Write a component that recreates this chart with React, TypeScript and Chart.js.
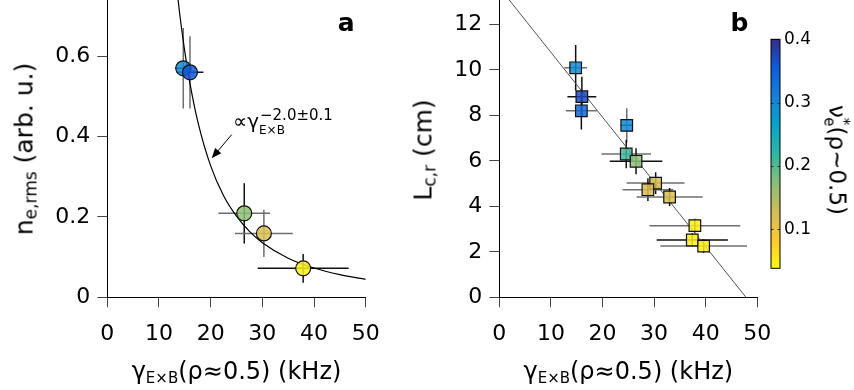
import React, { useEffect, useRef } from 'react';
import { Chart, registerables } from 'chart.js';
Chart.register(...registerables);

const FONT = 'DejaVu Sans';

// ---------- panel a ----------
const leftGamma = [14.7, 16.0, 26.5, 30.3, 37.9];
const leftGammaErr = [1.6, 2.6, 5.0, 5.6, 8.8];
const leftDensity = [0.570, 0.560, 0.209, 0.159, 0.072];
const leftDensityErr = [0.10, 0.09, 0.075, 0.059, 0.036];
const leftNu = [0.30, 0.36, 0.17, 0.12, 0.05];
const leftVErrDark = [false, false, true, false, true];
const leftHErrDark = [true, true, false, false, true];

// power-law fit curve
const leftFitGamma = [13.2, 13.7, 15, 16, 17.5, 20, 22.5, 25, 27.5, 30, 35, 40, 45, 50];
const leftFitDensity = [0.807, 0.74, 0.611, 0.532, 0.438, 0.327, 0.253, 0.202, 0.164, 0.136, 0.0973, 0.0728, 0.0563, 0.0448];

// ---------- panel b ----------
const rightGamma = [14.8, 16.0, 15.9, 24.7, 24.6, 26.5, 30.3, 28.8, 33.0, 37.9, 37.4, 39.6];
const rightGammaErr = [2.2, 2.8, 3.0, 1.2, 4.8, 5.1, 5.6, 4.9, 6.4, 8.8, 6.9, 8.4];
const rightLength = [10.09, 8.82, 8.20, 7.56, 6.30, 5.98, 5.02, 4.73, 4.41, 3.15, 2.52, 2.25];
const rightLengthErr = [1.0, 0.88, 0.82, 0.75, 0.63, 0.57, 0.48, 0.5, 0.4, 0.3, 0.3, 0.3];
const rightNu = [0.30, 0.37, 0.34, 0.30, 0.21, 0.17, 0.12, 0.12, 0.12, 0.05, 0.05, 0.05];
const rightVErrDark = [true, true, true, false, true, true, true, true, true, true, true, true];
const rightHErrDark = [false, true, false, true, false, true, false, false, false, false, true, false];

const rightFitGamma = [0, 47.8];
const rightFitLength = [13.62, 0];

// ---------- ticks ----------
const xTicks = [0, 10, 20, 30, 40, 50];
const leftYTicks = [0, 0.2, 0.4, 0.6];
const rightYTicks = [0, 2, 4, 6, 8, 10, 12];
const nuTicks = [0.1, 0.2, 0.3, 0.4];
const nuMin = 0.038;
const nuMax = 0.4;

// reversed parula colormap (0.4 -> dark blue, low -> yellow)
const PARULA = ['#352a87', '#0f5cdd', '#1481d6', '#06a4ca', '#2eb7a4', '#87bf77', '#d1bb59', '#fec832', '#f9fb0e'];
function hexRgb(h: string) {
  return [parseInt(h.slice(1, 3), 16), parseInt(h.slice(3, 5), 16), parseInt(h.slice(5, 7), 16)];
}
function nuColor(v: number, alpha = 1) {
  let t = (nuMax - v) / (nuMax - nuMin);
  t = Math.max(0, Math.min(1, t));
  const f = t * (PARULA.length - 1);
  const i = Math.min(PARULA.length - 2, Math.floor(f));
  const u = f - i;
  const a = hexRgb(PARULA[i]);
  const b = hexRgb(PARULA[i + 1]);
  const c = a.map((av, k) => Math.round(av + (b[k] - av) * u));
  return `rgba(${c[0]},${c[1]},${c[2]},${alpha})`;
}

function zeroPadding(s: any) {
  s.paddingTop = 0;
  s.paddingBottom = 0;
  s.paddingLeft = 0;
  s.paddingRight = 0;
}

const errorBarPlugin = {
  id: 'errbars',
  beforeDatasetsDraw(chart: any) {
    const { ctx, chartArea } = chart;
    const x = chart.scales.x;
    const y = chart.scales.y;
    ctx.save();
    ctx.beginPath();
    ctx.rect(chartArea.left, chartArea.top, chartArea.right - chartArea.left, chartArea.bottom - chartArea.top);
    ctx.clip();
    chart.data.datasets.forEach((ds: any) => {
      if (!ds.errX) return;
      ds.data.forEach((p: any, i: number) => {
        const px = x.getPixelForValue(p.x);
        const py = y.getPixelForValue(p.y);
        ctx.lineWidth = 1.5;
        ctx.strokeStyle = ds.hDark[i] ? '#111' : '#6e6e6e';
        ctx.beginPath();
        ctx.moveTo(x.getPixelForValue(p.x - ds.errX[i]), py);
        ctx.lineTo(x.getPixelForValue(p.x + ds.errX[i]), py);
        ctx.stroke();
        ctx.strokeStyle = ds.vDark[i] ? '#111' : '#6e6e6e';
        ctx.beginPath();
        ctx.moveTo(px, y.getPixelForValue(p.y - ds.errY[i]));
        ctx.lineTo(px, y.getPixelForValue(p.y + ds.errY[i]));
        ctx.stroke();
      });
    });
    ctx.restore();
  },
};

function panelLetter(letter: string, offRight: number) {
  return {
    id: 'letter' + letter,
    afterDraw(chart: any) {
      const { ctx, chartArea } = chart;
      ctx.save();
      ctx.font = `bold 25px "${FONT}"`;
      ctx.fillStyle = '#000';
      ctx.textAlign = 'right';
      ctx.textBaseline = 'alphabetic';
      ctx.fillText(letter, chartArea.right - offRight, chartArea.top + 31);
      ctx.restore();
    },
  };
}

const fitAnnotation = {
  id: 'fitAnnot',
  afterDraw(chart: any) {
    const { ctx } = chart;
    const x = chart.scales.x;
    const y = chart.scales.y;
    // arrow
    const x0 = x.getPixelForValue(24.07);
    const y0 = y.getPixelForValue(0.405);
    const x1 = x.getPixelForValue(20.2);
    const y1 = y.getPixelForValue(0.346);
    const ang = Math.atan2(y1 - y0, x1 - x0);
    ctx.save();
    ctx.strokeStyle = '#000';
    ctx.fillStyle = '#000';
    ctx.lineWidth = 1;
    ctx.beginPath();
    ctx.moveTo(x0, y0);
    ctx.lineTo(x1 - Math.cos(ang) * 6, y1 - Math.sin(ang) * 6);
    ctx.stroke();
    ctx.beginPath();
    ctx.moveTo(x1, y1);
    ctx.lineTo(x1 - Math.cos(ang) * 10 - Math.sin(ang) * 4, y1 - Math.sin(ang) * 10 + Math.cos(ang) * 4);
    ctx.lineTo(x1 - Math.cos(ang) * 10 + Math.sin(ang) * 4, y1 - Math.sin(ang) * 10 - Math.cos(ang) * 4);
    ctx.closePath();
    ctx.fill();
    // text
    const tx = x.getPixelForValue(24.3);
    const ty = y.getPixelForValue(0.421);
    ctx.textBaseline = 'alphabetic';
    ctx.textAlign = 'left';
    ctx.font = `20px "${FONT}"`;
    ctx.fillText('∝γ', tx, ty);
    const w = ctx.measureText('∝γ').width;
    ctx.font = `12px "${FONT}"`;
    ctx.fillText('E×B', tx + w, ty + 6);
    ctx.font = `15px "${FONT}"`;
    ctx.fillText('−2.0±0.1', tx + w + 1, ty - 8);
    ctx.restore();
  },
};

const colorbarPlugin = {
  id: 'colorbar',
  beforeDatasetsDraw(chart: any) {
    const { ctx, chartArea } = chart;
    const y = chart.scales.y;
    ctx.save();
    for (let py = Math.floor(chartArea.top); py < chartArea.bottom; py++) {
      const v = y.getValueForPixel(py + 0.5);
      ctx.fillStyle = nuColor(v);
      ctx.fillRect(chartArea.left, py, chartArea.right - chartArea.left, 1);
    }
    ctx.strokeStyle = '#333';
    ctx.lineWidth = 1;
    nuTicks.forEach((t) => {
      const py = Math.round(y.getPixelForValue(t)) + 0.5;
      ctx.beginPath();
      ctx.moveTo(chartArea.left, py);
      ctx.lineTo(chartArea.left + 2.5, py);
      ctx.moveTo(chartArea.right, py);
      ctx.lineTo(chartArea.right - 2.5, py);
      ctx.stroke();
    });
    ctx.strokeStyle = '#000';
    ctx.strokeRect(chartArea.left, chartArea.top, chartArea.right - chartArea.left, chartArea.bottom - chartArea.top);
    ctx.restore();
  },
};

function xAxis(): any {
  return {
    type: 'linear',
    min: 0,
    max: 50,
    afterBuildTicks: (s: any) => {
      s.ticks = xTicks.map((v) => ({ value: v }));
    },
    afterFit: (s: any) => {
      s.height = 92.7;
      zeroPadding(s);
    },
    grid: { drawOnChartArea: false, drawTicks: true, tickLength: 10, tickColor: '#444', tickWidth: 1 },
    border: { display: true, color: '#000', width: 1 },
    ticks: { font: { family: FONT, size: 22 }, color: '#000', padding: 14, maxRotation: 0, autoSkip: false },
  };
}

function yAxis(max: number, ticks: number[], width: number, fmt: (v: number) => string): any {
  return {
    type: 'linear',
    min: 0,
    max,
    afterBuildTicks: (s: any) => {
      s.ticks = ticks.map((v) => ({ value: v }));
    },
    afterFit: (s: any) => {
      s.width = width;
      zeroPadding(s);
    },
    grid: { drawOnChartArea: false, drawTicks: true, tickLength: 10, tickColor: '#444', tickWidth: 1 },
    border: { display: true, color: '#000', width: 1 },
    ticks: { font: { family: FONT, size: 22 }, color: '#000', padding: 7, autoSkip: false, callback: (v: any) => fmt(Number(v)) },
  };
}

function commonOptions(padding: any, scales: any): any {
  return {
    responsive: false,
    animation: false,
    devicePixelRatio: 1,
    layout: { padding, autoPadding: false },
    plugins: { legend: { display: false }, tooltip: { enabled: false } },
    scales,
  };
}

function leftConfig(): any {
  return {
    type: 'scatter',
    data: {
      datasets: [
        {
          type: 'scatter',
          data: leftGamma.map((g, i) => ({ x: g, y: leftDensity[i] })),
          errX: leftGammaErr,
          errY: leftDensityErr,
          hDark: leftHErrDark,
          vDark: leftVErrDark,
          pointStyle: 'circle',
          pointRadius: 7.5,
          backgroundColor: leftNu.map((v) => nuColor(v, 0.85)),
          borderColor: '#111',
          borderWidth: 1.2,
          order: 0,
        },
        {
          type: 'line',
          data: leftFitGamma.map((g, i) => ({ x: g, y: leftFitDensity[i] })),
          borderColor: '#000',
          borderWidth: 1.2,
          pointRadius: 0,
          cubicInterpolationMode: 'monotone',
          fill: false,
          order: 1,
        },
      ],
    },
    options: commonOptions(
      { left: 0, right: 854 - 365.7, top: 0, bottom: 0 },
      { x: xAxis(), y: yAxis(0.74, leftYTicks, 107.3, (v) => (v === 0 ? '0' : v.toFixed(1))) }
    ),
    plugins: [errorBarPlugin, panelLetter('a', 11), fitAnnotation],
  };
}

function rightConfig(): any {
  return {
    type: 'scatter',
    data: {
      datasets: [
        {
          type: 'scatter',
          data: rightGamma.map((g, i) => ({ x: g, y: rightLength[i] })),
          errX: rightGammaErr,
          errY: rightLengthErr,
          hDark: rightHErrDark,
          vDark: rightVErrDark,
          pointStyle: 'rect',
          pointRadius: 8.2,
          backgroundColor: rightNu.map((v) => nuColor(v, 0.85)),
          borderColor: '#111',
          borderWidth: 1.2,
          order: 0,
        },
        {
          type: 'line',
          data: rightFitGamma.map((g, i) => ({ x: g, y: rightFitLength[i] })),
          borderColor: '#555',
          borderWidth: 1,
          pointRadius: 0,
          fill: false,
          order: 1,
        },
      ],
    },
    options: commonOptions(
      { left: 420, right: 854 - 757.3, top: 0, bottom: 0 },
      { x: xAxis(), y: yAxis(13.07, rightYTicks, 79.3, (v) => String(v)) }
    ),
    plugins: [errorBarPlugin, panelLetter('b', 9)],
  };
}

function colorbarConfig(): any {
  return {
    type: 'scatter',
    data: { datasets: [{ data: [] }] },
    options: commonOptions(
      { left: 771, right: 0, top: 39.3, bottom: 390 - 268.3 },
      {
        x: { type: 'linear', display: false, min: 0, max: 1 },
        y: {
          type: 'linear',
          position: 'right',
          min: nuMin,
          max: nuMax,
          afterBuildTicks: (s: any) => {
            s.ticks = nuTicks.map((v) => ({ value: v }));
          },
          afterFit: (s: any) => {
            s.width = 854 - 780;
            zeroPadding(s);
          },
          grid: { display: false, drawTicks: false },
          border: { display: false },
          ticks: { font: { family: FONT, size: 17 }, color: '#000', padding: 4, callback: (v: any) => Number(v).toFixed(1) },
        },
      }
    ),
    plugins: [colorbarPlugin],
  };
}

const labelBase: any = {
  position: 'absolute',
  fontFamily: FONT,
  fontSize: 24,
  color: '#000',
  whiteSpace: 'nowrap',
  lineHeight: 1,
};

function XLabel({ cx }: { cx: number }) {
  return (
    <div style={{ ...labelBase, left: cx, top: 371, transform: 'translate(-50%,-50%)' }}>
      γ<span style={{ fontSize: 15, position: 'relative', top: 4 }}>E×B</span>(ρ≈0.5) (kHz)
    </div>
  );
}

export default function App() {
  const leftRef = useRef<HTMLCanvasElement>(null);
  const rightRef = useRef<HTMLCanvasElement>(null);
  const cbRef = useRef<HTMLCanvasElement>(null);

  useEffect(() => {
    const charts: Chart[] = [];
    charts.push(new Chart(leftRef.current as HTMLCanvasElement, leftConfig()));
    charts.push(new Chart(rightRef.current as HTMLCanvasElement, rightConfig()));
    charts.push(new Chart(cbRef.current as HTMLCanvasElement, colorbarConfig()));
    return () => charts.forEach((c) => c.destroy());
  }, []);

  const canvasStyle: any = { position: 'absolute', left: 0, top: 0, width: 854, height: 390 };

  return (
    <div style={{ position: 'fixed', left: 0, top: 0, width: 854, height: 390, background: '#fff', overflow: 'hidden' }}>
      <canvas ref={leftRef} width={854} height={390} style={canvasStyle} />
      <canvas ref={rightRef} width={854} height={390} style={canvasStyle} />
      <canvas ref={cbRef} width={854} height={390} style={canvasStyle} />
      <XLabel cx={236.5} />
      <XLabel cx={628.3} />
      <div style={{ ...labelBase, fontSize: 25, left: 24, top: 149, transform: 'translate(-50%,-50%) rotate(-90deg)' }}>
        n<span style={{ fontSize: 17, position: 'relative', top: 4 }}>e,rms</span> (arb. u.)
      </div>
      <div style={{ ...labelBase, fontSize: 25, left: 423, top: 150, transform: 'translate(-50%,-50%) rotate(-90deg)' }}>
        L<span style={{ fontSize: 17, position: 'relative', top: 4 }}>c,r</span> (cm)
      </div>
      <div style={{ ...labelBase, fontSize: 23, left: 837, top: 160, transform: 'translate(-50%,-50%) rotate(90deg)' }}>
        ν<span style={{ fontSize: 15, position: 'relative', top: -9 }}>*</span>
        <span style={{ fontSize: 15, position: 'relative', top: 5, marginLeft: -8 }}>e</span>(ρ~0.5)
      </div>
    </div>
  );
}
